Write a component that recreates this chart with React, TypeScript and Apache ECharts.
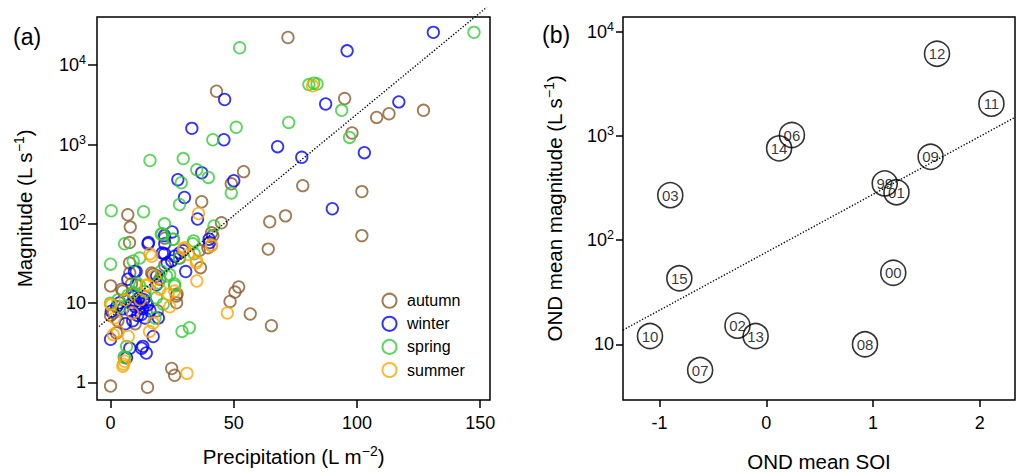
import React, { useEffect, useRef } from "react";
import * as echarts from "echarts";

const FONT = "'Liberation Sans', Arial, Helvetica, sans-serif";

// ---------- Panel (a): precipitation vs magnitude ----------
const seasonNames = ["autumn", "winter", "spring", "summer"];
const seasonColors = ["#8B5A2B", "#0000FF", "#33CC33", "#FFA500"];

const autumn: number[][] = [
  [72, 22400], [43, 4700], [95, 3800], [98, 1400], [108, 2200], [113, 2450], [127, 2700],
  [54, 455], [49, 320], [78, 303], [102, 255], [37, 190], [71, 126], [64.6, 106], [102, 71],
  [45, 103], [64, 48], [52, 16], [50.5, 13.8], [48.5, 10.5], [56.7, 7.3], [65.3, 5.2],
  [0, 0.9], [15, 0.87], [24.8, 1.5], [26, 1.23], [7, 130], [8, 91], [41, 77], [22, 66],
  [7.7, 58], [39.5, 50], [41.5, 71], [36.5, 28], [28, 37], [27, 13], [26.8, 10.1], [0, 16.5],
  [1.2, 7.5], [2.4, 4.2], [4.5, 15], [8.5, 17.4], [7.8, 24], [16.7, 24], [10.4, 17], [17.2, 23],
  [20, 20], [26.7, 12.3], [5, 14.2], [0, 7], [7.7, 32], [12, 9], [3, 6], [19, 8], [36, 46],
  [14, 12], [10, 5.5], [22, 30],
];
const winter: number[][] = [
  [131, 26000], [96, 15200], [46.3, 3700], [87.3, 3250], [117, 3450], [33, 1600], [46, 1150],
  [67.8, 940], [77.6, 690], [103, 790], [37, 440], [27.3, 360], [50, 350], [30, 215], [90, 155],
  [35.3, 115], [25, 79], [15.4, 58], [40, 64], [21, 43], [28, 43], [22, 56], [15.2, 56],
  [21.9, 71], [29.4, 46], [40.2, 58], [21.9, 42], [26, 39], [23, 32], [24.8, 34], [30.5, 25],
  [10.4, 25], [9.7, 25], [7, 20], [18.6, 17], [18.7, 22], [19.4, 6.5], [17.3, 3.8], [12.6, 2.7],
  [14.5, 2.35], [7.8, 2.7], [6.5, 2.05], [0, 3.5], [3.7, 10.1], [0.3, 7.9], [13.1, 2.85],
  [8, 8], [10, 9], [11, 7], [12, 10], [13, 8.5], [14, 6.5], [9, 6], [15, 9.5], [11.5, 11.5],
  [13.5, 11], [10, 10.5], [12.5, 7.2], [16, 8], [8.5, 9.8], [14.5, 10.2], [5, 8.5], [6, 5.5],
  [9.5, 12], [2.5, 9],
];
const spring: number[][] = [
  [147.5, 26000], [52.4, 16600], [80.5, 5700], [82.5, 5950], [83.8, 5800], [93.8, 2700],
  [51, 1650], [41.5, 1150], [72.3, 1900], [97, 1230], [16, 630], [29.5, 665], [35, 480],
  [39.7, 385], [28.7, 330], [49, 245], [28, 175], [0.3, 146], [13.4, 142], [21.9, 100], [42, 94],
  [21, 75], [25.6, 64], [5.7, 56], [33.7, 61], [34, 42], [20.6, 74], [25.3, 64], [33.4, 56],
  [0, 31], [9.2, 34], [11.8, 37], [28, 37], [19.4, 18], [10.6, 18], [22.7, 22], [26, 17.4],
  [21.4, 9.7], [18, 6.5], [6.5, 2.85], [5.7, 2.05], [29, 4.4], [32, 4.9], [0, 10], [9, 13.5],
  [11.8, 16.5], [20.6, 25.5], [24, 23], [26, 16.5], [18.6, 11.7], [5.5, 2.1], [4, 9], [7, 12.5],
  [14, 14], [3, 11],
];
const summer: number[][] = [
  [82, 5500], [35.7, 135], [41, 54], [16, 42], [29.6, 48], [16.7, 39], [31.5, 41], [35, 34],
  [35, 19], [30, 50], [40.9, 53], [34.8, 32], [14.6, 17], [23.4, 13], [17.3, 5.6], [14.5, 16.5],
  [26, 14.2], [0, 9.7], [0.3, 9.5], [1.6, 6.5], [1.1, 4.0], [7.2, 3.8], [3, 4.4], [15.8, 4.4],
  [5.2, 1.7], [5.7, 1.85], [5, 1.6], [31, 1.3], [47.4, 7.5], [12, 11], [9, 7.5], [20, 15],
  [24, 9], [18, 22], [6, 11],
];
const seasonData = [autumn, winter, spring, summer];
const fitA: number[][] = [[-4.7, 5.06], [152.7, 53900]];

const precipTicks = [0, 50, 100, 150];
const magTicksA = [1, 10, 100, 1000, 10000];

// ---------- Panel (b): OND mean SOI vs OND mean magnitude ----------
const years = ["99", "00", "01", "02", "03", "06", "07", "08", "09", "10", "11", "12", "13", "14", "15"];
const soi = [1.11, 1.19, 1.22, -0.27, -0.9, 0.24, -0.62, 0.925, 1.54, -1.09, 2.11, 1.6, -0.1, 0.12, -0.815];
const ondMag = [350, 48.6, 288, 15.1, 270, 1020, 5.66, 10, 630, 12, 2040, 6150, 12, 760, 43];
const fitB: number[][] = [[-1.343, 13.7], [2.331, 1507]];

const soiTicks = [-1, 0, 1, 2];
const magTicksB = [10, 100, 1000, 10000];

const powLabel = (v: number) => {
  const e = Math.round(Math.log10(v));
  if (e === 0) return "1";
  if (e === 1) return "10";
  return `{b|10}{s|${e}}`;
};

const tickRich = {
  b: { fontSize: 18, fontFamily: FONT, color: "#000" },
  s: { fontSize: 12.5, fontFamily: FONT, color: "#000", verticalAlign: "top", padding: [0, 0, 10, 0] },
};
const titleRich = {
  s: { fontSize: 14, fontFamily: FONT, fill: "#000", color: "#000", verticalAlign: "top", padding: [0, 0, 11, 0] },
};

function logAxis(gridIndex: number, min: number, max: number, ticks: number[], margin: number, tickLen: number) {
  return {
    type: "log",
    logBase: 10,
    gridIndex,
    min,
    max,
    axisLine: { show: false, onZero: false },
    axisTick: { show: true, length: tickLen, lineStyle: { color: "#000", width: 1.5 }, customValues: ticks },
    axisLabel: {
      customValues: ticks,
      formatter: powLabel,
      margin,
      fontSize: 18,
      color: "#000",
      fontFamily: FONT,
      rich: tickRich,
    },
    splitLine: { show: false },
  };
}

function valAxis(gridIndex: number, min: number, max: number, ticks: number[], tickLen: number) {
  return {
    type: "value",
    gridIndex,
    min,
    max,
    axisLine: { show: false, onZero: false },
    axisTick: { show: true, length: tickLen, lineStyle: { color: "#000", width: 1.5 }, customValues: ticks },
    axisLabel: {
      customValues: ticks,
      formatter: (v: number) => String(v),
      margin: 14,
      fontSize: 18,
      color: "#000",
      fontFamily: FONT,
    },
    splitLine: { show: false },
  };
}

function titleText(text: string, x: number, y: number, rotate: boolean) {
  return {
    type: "text",
    x,
    y,
    rotation: rotate ? Math.PI / 2 : 0,
    style: {
      text,
      fontSize: 20.5,
      fontFamily: FONT,
      fill: "#000",
      align: "center",
      verticalAlign: "middle",
      textAlign: "center",
      textVerticalAlign: "middle",
      rich: titleRich,
    },
  };
}

export default function App() {
  const ref = useRef<HTMLDivElement>(null);
  useEffect(() => {
    if (!ref.current) return;
    const chart = echarts.init(ref.current, undefined, { renderer: "svg" });
    const scatterA = seasonNames.map((name, i) => ({
      type: "scatter",
      name,
      xAxisIndex: 0,
      yAxisIndex: 0,
      data: seasonData[i],
      symbol: "circle",
      symbolSize: 11.5,
      itemStyle: { color: "rgba(0,0,0,0)", borderColor: seasonColors[i], borderWidth: 1.8 },
      emphasis: { disabled: true },
      z: 3,
    }));
    const option: any = {
      animation: false,
      backgroundColor: "#fff",
      textStyle: { fontFamily: FONT },
      grid: [
        { left: 97, top: 17, width: 393, height: 383, show: true, borderColor: "#000", borderWidth: 1.5, backgroundColor: "transparent" },
        { left: 623, top: 17, width: 392, height: 383, show: true, borderColor: "#000", borderWidth: 1.5, backgroundColor: "transparent" },
      ],
      xAxis: [valAxis(0, -5.5, 154, precipTicks, 8), valAxis(1, -1.343, 2.331, soiTicks, 7)],
      yAxis: [logAxis(0, 0.6, 40600, magTicksA, 11, 9), logAxis(1, 2.92, 13840, magTicksB, 9, 7)],
      legend: {
        data: seasonNames,
        orient: "vertical",
        left: 381.5,
        top: 292.7,
        padding: 0,
        itemWidth: 25,
        itemHeight: 14,
        itemGap: 7.1,
        symbolKeepAspect: true,
        selectedMode: false,
        textStyle: { fontSize: 16, fontFamily: FONT, color: "#000", lineHeight: 16 },
      },
      series: [
        ...scatterA,
        {
          type: "line",
          xAxisIndex: 0,
          yAxisIndex: 0,
          data: fitA,
          symbol: "none",
          showSymbol: false,
          clip: false,
          silent: true,
          lineStyle: { color: "#000", width: 1.4, type: [1.3, 1.8] },
          z: 5,
        },
        {
          type: "scatter",
          name: "OND",
          xAxisIndex: 1,
          yAxisIndex: 1,
          data: years.map((y, i) => ({ name: y, value: [soi[i], ondMag[i]] })),
          symbol: "circle",
          symbolSize: 25,
          itemStyle: { color: "rgba(0,0,0,0)", borderColor: "#000", borderWidth: 1.6 },
          label: { show: true, position: "inside", formatter: "{b}", fontSize: 15, color: "#000", fontFamily: FONT },
          emphasis: { disabled: true },
          z: 3,
        },
        {
          type: "line",
          xAxisIndex: 1,
          yAxisIndex: 1,
          data: fitB,
          symbol: "none",
          showSymbol: false,
          silent: true,
          lineStyle: { color: "#000", width: 1.4, type: [1.3, 1.8] },
          z: 5,
        },
      ],
      graphic: [
        {
          type: "text",
          x: 13,
          y: 37,
          style: { text: "(a)", fontSize: 23, fontFamily: FONT, fill: "#000", align: "left", verticalAlign: "middle", textAlign: "left", textVerticalAlign: "middle" },
        },
        {
          type: "text",
          x: 542,
          y: 35,
          style: { text: "(b)", fontSize: 23, fontFamily: FONT, fill: "#000", align: "left", verticalAlign: "middle", textAlign: "left", textVerticalAlign: "middle" },
        },
        titleText("Magnitude (L s{s|−1})", 24.7, 208.5, true),
        titleText("OND mean magnitude (L s{s|−1})", 554.7, 208.5, true),
        titleText("Precipitation (L m{s|−2})", 293.5, 456, false),
        titleText("OND mean SOI", 819, 461, false),
      ],
    };
    chart.setOption(option);
    return () => chart.dispose();
  }, []);
  return <div ref={ref} style={{ position: "absolute", left: 0, top: 0, width: 1017, height: 472 }} />;
}
